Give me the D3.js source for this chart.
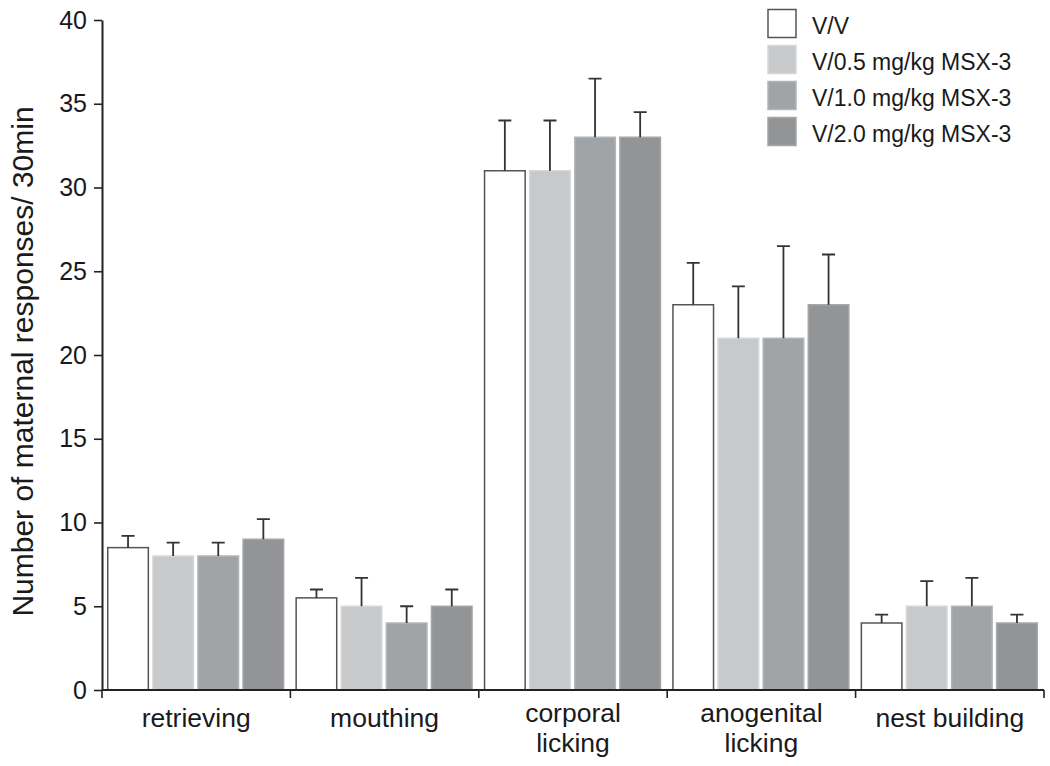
<!DOCTYPE html>
<html>
<head>
<meta charset="utf-8">
<script src="https://cdn.jsdelivr.net/npm/d3@7"></script>
<style>
  body { margin: 0; background: #fff; }
  text { font-family: "Liberation Sans", Arial, sans-serif; fill: #1a1a1a; }
</style>
</head>
<body>
<script>
// data
var categories = [["retrieving"], ["mouthing"], ["corporal", "licking"], ["anogenital", "licking"], ["nest building"]];
var series = ["V/V", "V/0.5 mg/kg MSX-3", "V/1.0 mg/kg MSX-3", "V/2.0 mg/kg MSX-3"];
var means = [
  [8.5, 8, 8, 9],
  [5.5, 5, 4, 5],
  [31, 31, 33, 33],
  [23, 21, 21, 23],
  [4, 5, 5, 4]
];
var upper = [
  [9.2, 8.8, 8.8, 10.2],
  [6.0, 6.7, 5.0, 6.0],
  [34, 34, 36.5, 34.5],
  [25.5, 24.1, 26.5, 26],
  [4.5, 6.5, 6.7, 4.5]
];
var yTicks = [0, 5, 10, 15, 20, 25, 30, 35, 40];

var colors = ["#ffffff", "#c8c9cb", "#a1a4a7", "#939496"];
var strokes = ["#555555", "#d6d7d9", "#b3b5b8", "#a5a6a8"];

var W = 1050, H = 766;
var plotLeft = 102, plotRight = 1044, plotTop = 20, plotBottom = 690;

var svg = d3.select("body").append("svg")
  .attr("width", W)
  .attr("height", H);

var catNames = categories.map(function(c) { return c.join(" "); });

var x0 = d3.scaleBand().domain(catNames).range([plotLeft, plotRight]).padding(0);
var x1 = d3.scaleBand().domain(d3.range(series.length)).range([5, x0.bandwidth() - 6]).paddingInner(0.067);
var y = d3.scaleLinear().domain([0, 40]).range([plotBottom, plotTop]);

// bars
var groups = svg.selectAll(".grp").data(means).enter().append("g")
  .attr("class", "grp")
  .attr("transform", function(d, i) { return "translate(" + x0(catNames[i]) + ",0)"; });

groups.each(function(row, i) {
  var g = d3.select(this);
  var data = row.map(function(v, j) { return { v: v, hi: upper[i][j], j: j }; });

  g.selectAll("rect").data(data).enter().append("rect")
    .attr("x", function(d) { return x1(d.j) + 0.75; })
    .attr("y", function(d) { return y(d.v); })
    .attr("width", x1.bandwidth() - 1.5)
    .attr("height", function(d) { return y(0) - y(d.v); })
    .attr("fill", function(d) { return colors[d.j]; })
    .attr("stroke", function(d) { return strokes[d.j]; })
    .attr("stroke-width", 1.5);

  // error bars (upper only)
  g.selectAll(".err").data(data).enter().append("path")
    .attr("class", "err")
    .attr("d", function(d) {
      var cx = x1(d.j) + x1.bandwidth() / 2;
      return "M" + cx + "," + y(d.v) + "V" + y(d.hi) + "M" + (cx - 6.5) + "," + y(d.hi) + "H" + (cx + 6.5);
    })
    .attr("stroke", "#333")
    .attr("stroke-width", 1.8)
    .attr("fill", "none");
});

// y axis
var yAxis = svg.append("g")
  .attr("transform", "translate(" + plotLeft + ",0)")
  .call(d3.axisLeft(y).tickValues(yTicks).tickSize(8).tickPadding(7).tickSizeOuter(0));
yAxis.select(".domain").attr("stroke", "#222").attr("stroke-width", 2);
yAxis.selectAll(".tick line").attr("stroke", "#222").attr("stroke-width", 1.6);
yAxis.selectAll(".tick text").style("font-size", "25px").attr("fill", "#1a1a1a")
  .attr("font-family", null);

// x axis line + boundary ticks
svg.append("line")
  .attr("x1", plotLeft).attr("x2", plotRight)
  .attr("y1", plotBottom).attr("y2", plotBottom)
  .attr("stroke", "#222").attr("stroke-width", 2);

var bounds = catNames.map(function(c) { return x0(c); }).concat([plotRight]);
svg.selectAll(".xtick").data(bounds).enter().append("line")
  .attr("x1", function(d) { return d; }).attr("x2", function(d) { return d; })
  .attr("y1", plotBottom).attr("y2", plotBottom + 8)
  .attr("stroke", "#222").attr("stroke-width", 1.6);

// category labels
svg.selectAll(".xlab").data(categories).enter().append("text")
  .attr("class", "xlab")
  .attr("text-anchor", "middle")
  .style("font-size", "26.5px")
  .each(function(lines, i) {
    var t = d3.select(this);
    var cx = x0(catNames[i]) + x0.bandwidth() / 2;
    var y0 = lines.length > 1 ? 722 : 727;
    lines.forEach(function(l, k) {
      t.append("tspan").attr("x", cx).attr("y", y0 + k * 30).text(l);
    });
  });

// y label
svg.append("text")
  .attr("transform", "translate(33," + ((98 + 625) / 2) + ") rotate(-90)")
  .attr("text-anchor", "middle")
  .style("font-size", "30px")
  .text("Number of maternal responses/ 30min");

// legend
var legend = svg.selectAll(".leg").data(series).enter().append("g")
  .attr("class", "leg")
  .attr("transform", function(d, i) { return "translate(768," + (9.5 + i * 36) + ")"; });

legend.append("rect")
  .attr("width", 28).attr("height", 28)
  .attr("fill", function(d, i) { return colors[i]; })
  .attr("stroke", function(d, i) { return strokes[i]; })
  .attr("stroke-width", 1.5);

legend.append("text")
  .attr("x", 44).attr("y", 24)
  .style("font-size", "23px")
  .text(function(d) { return d; });
</script>
</body>
</html>
